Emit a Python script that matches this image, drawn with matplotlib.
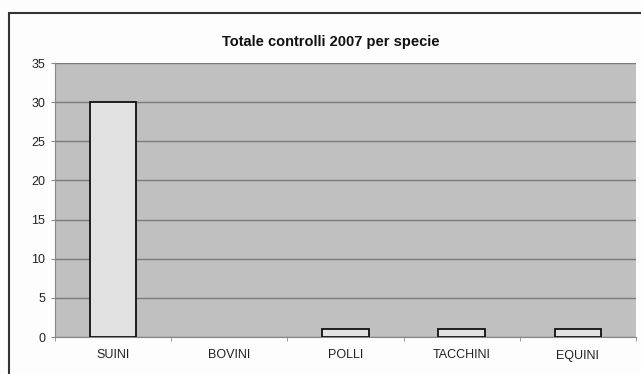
import matplotlib.pyplot as plt
import matplotlib.patches as patches
import numpy as np

plt.rcParams['font.family'] = ['Liberation Sans', 'DejaVu Sans']

categories = ["SUINI", "BOVINI", "POLLI", "TACCHINI", "EQUINI"]
values = [30, 0, 1, 1, 1]
title = "Totale controlli 2007 per specie"

fig = plt.figure(figsize=(6.41, 3.74), dpi=100)
fig.patch.set_facecolor("#fdfdfd")

# outer frame of the chart object (runs off right/bottom edge)
frame = patches.Rectangle((9 / 641, -0.05), 1.0, 1 - 13 / 374 + 0.05,
                          transform=fig.transFigure, fill=False,
                          edgecolor="#333333", linewidth=1.5)
fig.patches.append(frame)

ax = fig.add_axes([55 / 641, 37 / 374, 581 / 641, 274 / 374])
ax.set_facecolor("#c0c0c0")

x = np.arange(len(categories))
# zero-height bars draw no outline in the original
edges = ["#111111" if v > 0 else "none" for v in values]
ax.bar(x, values, width=0.4, color="#e2e2e2", edgecolor=edges,
       linewidth=1.3, zorder=3)

ax.set_xlim(-0.5, len(categories) - 0.5)
ax.set_ylim(0, 35)
ax.set_yticks(np.arange(0, 36, 5))
ax.yaxis.grid(True, color="#7a7a7a", linewidth=1.0, zorder=1)
ax.set_axisbelow(True)

ax.set_xticks(x)
ax.set_xticklabels(categories)
ax.set_xticks(np.arange(-0.5, len(categories), 1), minor=True)
ax.tick_params(axis="x", which="major", length=0, pad=9,
               labelsize=9, labelcolor="#222222")
ax.tick_params(axis="x", which="minor", length=3, color="#888888")
ax.tick_params(axis="y", length=3, color="#888888", pad=4,
               labelsize=9, labelcolor="#222222")

for side in ["top", "right"]:
    ax.spines[side].set_visible(False)
ax.spines["left"].set_color("#888888")
ax.spines["bottom"].set_color("#888888")

fig.text(331 / 641, 1 - 42 / 374, title, ha="center", va="center",
         fontsize=10.5, fontweight="bold", color="#111111")

fig.savefig("out.png", dpi=100, facecolor=fig.get_facecolor())
